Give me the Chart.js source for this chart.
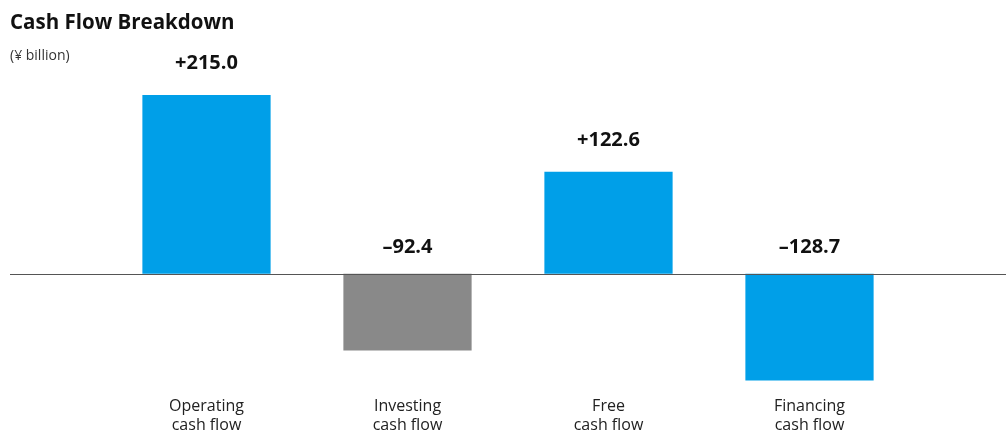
<!DOCTYPE html>
<html>
<head>
<meta charset="utf-8">
<script src="https://cdn.jsdelivr.net/npm/chart.js@4/dist/chart.umd.min.js"></script>
<style>
  html, body { margin: 0; padding: 0; background: #fff; }
</style>
</head>
<body>
<canvas id="cash-flow-canvas" width="1006" height="433"></canvas>
<script>
const categories = [['Operating', 'cash flow'], ['Investing', 'cash flow'], ['Free', 'cash flow'], ['Financing', 'cash flow']];
const values = [215.0, -92.4, 122.6, -128.7];
const valueLabels = ['+215.0', '\u201392.4', '+122.6', '\u2013128.7'];
const barColors = ['#009fe8', '#898989', '#009fe8', '#009fe8'];

const FONT = '"Open Sans", "Noto Sans", sans-serif';

// title, unit, zero line and value labels
const annotations = {
    id: 'annotations',
    afterDatasetsDraw(chart) {
        const ctx = chart.ctx;
        const y0 = Math.round(chart.scales.y.getPixelForValue(0)) + 0.5;

        ctx.save();
        ctx.strokeStyle = '#555555';
        ctx.lineWidth = 1;
        ctx.beginPath();
        ctx.moveTo(10, y0);
        ctx.lineTo(1006, y0);
        ctx.stroke();

        ctx.fillStyle = '#111111';
        ctx.textAlign = 'left';
        ctx.textBaseline = 'alphabetic';
        ctx.font = 'bold 20.5px ' + FONT;
        ctx.fillText('Cash Flow Breakdown', 10, 29);
        ctx.fillStyle = '#333333';
        ctx.font = '14px ' + FONT;
        ctx.fillText('(\u00a5 billion)', 10, 60);

        ctx.fillStyle = '#111111';
        ctx.font = 'bold 20px ' + FONT;
        ctx.textAlign = 'center';
        let meta = chart.getDatasetMeta(0);
        meta.data.forEach((bar, i) => {
            let top = values[i] >= 0 ? bar.y : y0;
            ctx.fillText(valueLabels[i], bar.x, top - (values[i] >= 0 ? 26 : 22));
        });
        ctx.restore();
    }
};

new Chart(document.getElementById('cash-flow-canvas'), {
    type: 'bar',
    data: {
        labels: categories,
        datasets: [{
            data: values,
            backgroundColor: barColors,
            borderWidth: 0,
            barPercentage: 0.638,
            categoryPercentage: 1.0
        }]
    },
    options: {
        responsive: false,
        animation: false,
        devicePixelRatio: 1,
        layout: {
            padding: { left: 106, right: 96, top: 66, bottom: -9 }
        },
        plugins: {
            legend: { display: false },
            tooltip: { enabled: false },
            title: { display: false }
        },
        scales: {
            x: {
                grid: { display: false, drawTicks: false },
                border: { display: false },
                ticks: {
                    color: '#222222',
                    padding: 7,
                    font: { family: FONT, size: 16, lineHeight: 1.19 }
                }
            },
            y: {
                display: false,
                min: -140,
                max: 250
            }
        }
    },
    plugins: [annotations]
});
</script>
</body>
</html>
